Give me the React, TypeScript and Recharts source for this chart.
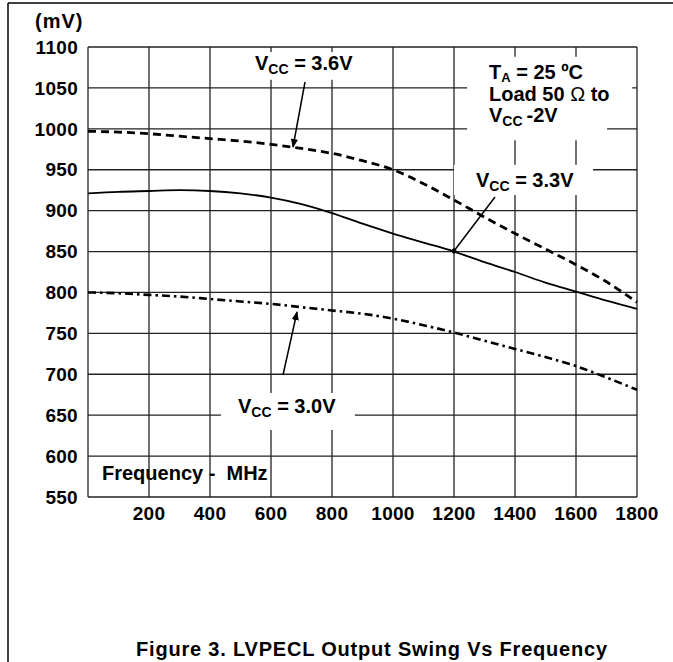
import React from 'react';
import { LineChart, Line, XAxis, YAxis, CartesianGrid, ReferenceArea } from 'recharts';

const freq = [0, 100, 200, 300, 400, 500, 600, 700, 800, 900, 1000, 1100, 1200, 1300, 1400, 1500, 1600, 1700, 1800];
const vcc36 = [997, 996, 994, 991, 988, 985, 981, 976, 970, 961, 950, 933, 913, 892, 872, 853, 834, 813, 788];
const vcc33 = [921, 923, 924, 925, 924, 921, 916, 908, 897, 884, 872, 861, 850, 837, 825, 812, 801, 790, 780];
const vcc30 = [800, 799, 797, 795, 792, 789, 786, 782, 778, 774, 768, 760, 751, 741, 731, 721, 710, 696, 681];

const xTicks = [0, 200, 400, 600, 800, 1000, 1200, 1400, 1600, 1800];
const yTicks = [550, 600, 650, 700, 750, 800, 850, 900, 950, 1000, 1050, 1100];

const data = freq.map((f, i) => ({ f, v36: vcc36[i], v33: vcc33[i], v30: vcc30[i] }));

const FONT = '"Liberation Sans", Arial, Helvetica, sans-serif';

const txt = {
  fontFamily: FONT,
  fontWeight: 700,
  fontSize: 20,
  fill: '#000',
} as const;

function Vcc({ x, y, rest }: { x: number; y: number; rest: string }) {
  return (
    <text x={x} y={y} style={txt}>
      V
      <tspan fontSize={14} dy={4}>CC</tspan>
      <tspan dy={-4}>{rest}</tspan>
    </text>
  );
}

function Overlay() {
  return (
    <svg width={673} height={662} style={{ position: 'absolute', left: 0, top: 0, pointerEvents: 'none' }}>
      <defs>
        <marker id="arr" viewBox="0 0 10 10" refX="9" refY="5" markerWidth="9" markerHeight="9" markerUnits="userSpaceOnUse" orient="auto">
          <path d="M0,1 L10,5 L0,9 z" fill="#000" />
        </marker>
        <marker id="dot" viewBox="0 0 10 10" refX="5" refY="5" markerWidth="5" markerHeight="5" markerUnits="userSpaceOnUse" orient="auto">
          <circle cx="5" cy="5" r="5" fill="#000" />
        </marker>
      </defs>
      <line x1={8} y1={3} x2={673} y2={3} stroke="#000" strokeWidth={1.5} />
      <line x1={8} y1={3} x2={8} y2={662} stroke="#000" strokeWidth={1.5} />

      <text x={35} y={28} style={{ ...txt, letterSpacing: 1 }}>(mV)</text>

      <Vcc x={255} y={70} rest=" = 3.6V" />
      <line x1={305} y1={82} x2={293} y2={147} stroke="#000" strokeWidth={1.5} markerEnd="url(#arr)" />

      <Vcc x={476} y={187} rest=" = 3.3V" />
      <line x1={495} y1={197} x2={454} y2={251} stroke="#000" strokeWidth={1.5} markerEnd="url(#dot)" />

      <Vcc x={238} y={413} rest=" = 3.0V" />
      <line x1={283} y1={375} x2={297} y2={312} stroke="#000" strokeWidth={1.5} markerEnd="url(#arr)" />

      <text x={489} y={79} style={txt}>
        T
        <tspan fontSize={13} dy={3}>A</tspan>
        <tspan dy={-3}> = 25 ºC</tspan>
      </text>
      <text x={489} y={101} style={txt}>
        Load 50 <tspan fontWeight={400}>Ω</tspan> to
      </text>
      <Vcc x={489} y={122} rest={'\u2009-2V'} />

      <text x={102} y={480} style={txt}>{'Frequency -\u00a0 MHz'}</text>

      <text x={372} y={656} textAnchor="middle" style={{ ...txt, letterSpacing: 0.8 }}>
        Figure 3. LVPECL Output Swing Vs Frequency
      </text>
    </svg>
  );
}

const tickStyle = { fontFamily: FONT, fontWeight: 700, fontSize: 19, fill: '#000', letterSpacing: 0.3 };

export default function App() {
  return (
    <div style={{ position: 'absolute', left: 0, top: 0, width: 673, height: 662, background: '#fff' }}>
      <LineChart width={673} height={662} data={data} margin={{ top: 47, right: 36, bottom: 135, left: 28 }}>
        <CartesianGrid stroke="#222" strokeWidth={1.3} />
        <XAxis
          dataKey="f"
          type="number"
          domain={[0, 1800]}
          ticks={xTicks}
          tickFormatter={(v: number) => (v === 0 ? '' : String(v))}
          axisLine={false}
          tickLine={false}
          tickMargin={4}
          height={30}
          tick={tickStyle}
          interval={0}
        />
        <YAxis
          type="number"
          domain={[550, 1100]}
          ticks={yTicks}
          axisLine={false}
          tickLine={false}
          tickMargin={4}
          width={60}
          tick={tickStyle}
          interval={0}
        />
        <ReferenceArea x1={531} x2={892} y1={1060} y2={1094} fill="#fff" fillOpacity={1} stroke="none" ifOverflow="visible" />
        <ReferenceArea x1={1243} x2={1784} y1={1011} y2={1088} fill="#fff" fillOpacity={1} stroke="none" ifOverflow="visible" />
        <ReferenceArea x1={1243} x2={1702} y1={986} y2={1012} fill="#fff" fillOpacity={1} stroke="none" ifOverflow="visible" />
        <ReferenceArea x1={1200} x2={1656} y1={919} y2={956} fill="#fff" fillOpacity={1} stroke="none" ifOverflow="visible" />
        <ReferenceArea x1={436} x2={875} y1={632} y2={677} fill="#fff" fillOpacity={1} stroke="none" ifOverflow="visible" />
        <Line dataKey="v36" type="monotone" stroke="#000" strokeWidth={2.8} strokeDasharray="8 5" dot={false} isAnimationActive={false} />
        <Line dataKey="v33" type="monotone" stroke="#000" strokeWidth={1.8} dot={false} isAnimationActive={false} />
        <Line dataKey="v30" type="monotone" stroke="#000" strokeWidth={2.6} strokeDasharray="8 4 2.5 4" dot={false} isAnimationActive={false} />
      </LineChart>
      <Overlay />
    </div>
  );
}
